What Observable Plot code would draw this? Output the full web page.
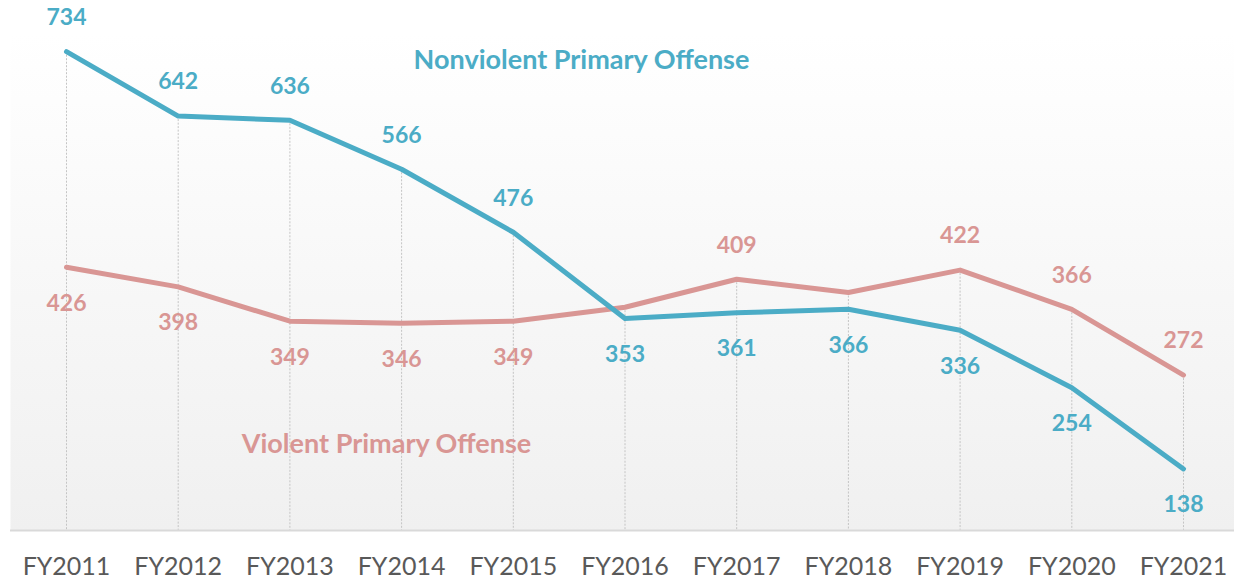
<!DOCTYPE html>
<html>
<head>
<meta charset="utf-8">
<script src="https://cdn.jsdelivr.net/npm/d3@7"></script>
<script src="https://cdn.jsdelivr.net/npm/@observablehq/plot@0.6"></script>
<style>
  html, body { margin: 0; padding: 0; background: #ffffff; }
  #chart { width: 1234px; height: 581px; }
</style>
</head>
<body>
<div id="chart"></div>
<script>
const years = ["FY2011","FY2012","FY2013","FY2014","FY2015","FY2016","FY2017","FY2018","FY2019","FY2020","FY2021"];
const nonviolent = [734, 642, 636, 566, 476, 353, 361, 366, 336, 254, 138];
const violent = [426, 398, 349, 346, 349, 369, 409, 390, 422, 366, 272];
// labels shown in the reference (null = not labelled)
const violentLabels = [426, 398, 349, 346, 349, null, 409, null, 422, 366, 272];
const nonviolentLabels = [734, 642, 636, 566, 476, 353, 361, 366, 336, 254, 138];

const blue = "#4bacc6";
const pink = "#d99694";

const rows = years.map((yr, i) => ({
  year: yr,
  nv: nonviolent[i],
  v: violent[i],
  nvLab: nonviolentLabels[i],
  vLab: violentLabels[i],
  top: Math.max(nonviolent[i], violent[i])
}));

const nvAbove = rows.filter(d => d.nvLab != null && d.nv >= d.v);
const nvBelow = rows.filter(d => d.nvLab != null && d.nv < d.v);
const vAbove = rows.filter(d => d.vLab != null && d.v > d.nv);
const vBelow = rows.filter(d => d.vLab != null && d.v <= d.nv);

const yMin = 50, yMax = 760;

const svg = Plot.plot({
  width: 1234,
  height: 581,
  marginTop: 33,
  marginBottom: 51,
  marginLeft: 66,
  marginRight: 51,
  style: { fontFamily: "Lato, 'Open Sans', sans-serif", background: "transparent", overflow: "visible" },
  x: { type: "point", domain: years, padding: 0, round: false, label: null },
  y: { domain: [yMin, yMax], axis: null },
  marks: [
    Plot.frame({ fill: "url(#bgGrad)", stroke: null, insetLeft: -56, insetRight: -51 }),
    Plot.ruleX(rows, { x: "year", y1: "top", y2: yMin, stroke: "#c4c4c4", strokeWidth: 1, strokeDasharray: "2,1.5" }),
    Plot.ruleY([yMin], { stroke: "#d9d9d9", strokeWidth: 2, insetLeft: -56, insetRight: -51 }),
    Plot.line(rows, { x: "year", y: "v", stroke: pink, strokeWidth: 5, strokeLinejoin: "round", strokeLinecap: "round" }),
    Plot.line(rows, { x: "year", y: "nv", stroke: blue, strokeWidth: 5, strokeLinejoin: "round", strokeLinecap: "round" }),
    Plot.text(nvAbove, { x: "year", y: "nv", text: d => String(d.nvLab), dy: -34, fill: blue, fontSize: 23, fontWeight: "bold" }),
    Plot.text(nvBelow, { x: "year", y: "nv", text: d => String(d.nvLab), dy: 36, fill: blue, fontSize: 23, fontWeight: "bold" }),
    Plot.text(vAbove, { x: "year", y: "v", text: d => String(d.vLab), dy: -34, fill: pink, fontSize: 23, fontWeight: "bold" }),
    Plot.text(vBelow, { x: "year", y: "v", text: d => String(d.vLab), dy: 36, fill: pink, fontSize: 23, fontWeight: "bold" }),
    Plot.text(["Nonviolent Primary Offense"], { frameAnchor: "top-left", dx: 515, dy: 16, fill: blue, fontSize: 27, fontWeight: "bold", textAnchor: "middle" }),
    Plot.text(["Violent Primary Offense"], { frameAnchor: "top-left", dx: 320, dy: 400, fill: pink, fontSize: 27, fontWeight: "bold", textAnchor: "middle" }),
    Plot.axisX({ tickSize: 0, tickPadding: 27, fontSize: 25, fill: "#595959", label: null })
  ]
});

svg.insertAdjacentHTML("afterbegin",
  '<defs><linearGradient id="bgGrad" x1="0" y1="0" x2="0" y2="1">' +
  '<stop offset="0" stop-color="#ffffff"/>' +
  '<stop offset="1" stop-color="#f0f0f0"/>' +
  '</linearGradient></defs>');

document.getElementById("chart").appendChild(svg);
</script>
</body>
</html>
